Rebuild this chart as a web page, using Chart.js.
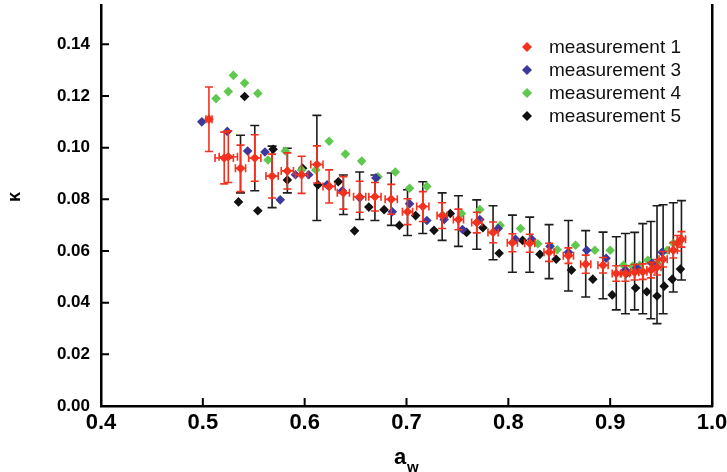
<!DOCTYPE html>
<html>
<head>
<meta charset="utf-8">
<script src="https://cdn.jsdelivr.net/npm/chart.js@4.4.0/dist/chart.umd.min.js"></script>
<style>
  html, body { margin: 0; padding: 0; background: #fff; }
  #wrap { width: 727px; height: 472px; position: relative; }
</style>
</head>
<body>
<div id="wrap"><canvas id="c"></canvas></div>
<script>
// tick labels
const xTicks = [0.4, 0.5, 0.6, 0.7, 0.8, 0.9, 1.0];
const yTicks = [0, 0.02, 0.04, 0.06, 0.08, 0.10, 0.12, 0.14];

// measurement 1 (mean, red error bars) + spread between runs (black bars)
const m1X = [0.506,0.521,0.525,0.537,0.551,0.568,0.583,0.597,0.612,0.624,0.638,0.654,0.669,0.685,0.701,0.716,0.735,0.751,0.769,0.785,0.804,0.821,0.840,0.859,0.876,0.893,0.906,0.915,0.924,0.932,0.940,0.946,0.952,0.962,0.966,0.970];
const m1Y = [0.111,0.096,0.0965,0.092,0.096,0.089,0.091,0.0895,0.0935,0.085,0.0825,0.081,0.081,0.080,0.0752,0.0772,0.0737,0.0722,0.071,0.0672,0.0632,0.063,0.0595,0.0582,0.0549,0.0545,0.0513,0.0513,0.0518,0.052,0.0526,0.0537,0.0568,0.0603,0.063,0.0645];
const m1Yerr = [0.0125,0.010,0.010,0.009,0.009,0.0085,0.007,0.0072,0.0072,0.0064,0.0063,0.006,0.0055,0.0058,0.005,0.0058,0.005,0.004,0.004,0.004,0.0035,0.0035,0.0035,0.003,0.0035,0.003,0.003,0.003,0.003,0.003,0.003,0.003,0.003,0.003,0.003,0.003];
const m1Xerr = [0.003,0.009,0.009,0.005,0.006,0.006,0.006,0.006,0.006,0.006,0.006,0.006,0.006,0.006,0.005,0.006,0.005,0.005,0.005,0.005,0.005,0.005,0.005,0.005,0.005,0.005,0.004,0.004,0.004,0.004,0.004,0.004,0.004,0.004,0.004,0.004];
const m1Lo = [null,null,null,0.0825,0.0833,0.0768,0.0825,null,0.0718,null,0.0741,0.0722,0.0718,0.0699,0.066,0.0668,0.0641,0.0618,0.0607,0.0566,0.0518,0.0518,0.0493,0.0445,0.0422,0.0415,0.0372,0.0357,0.0372,0.0357,0.0338,0.0319,0.0357,0.0441,null,0.0488];
const m1Hi = [null,null,null,0.1048,0.1086,0.1006,0.0998,null,0.1125,null,0.0894,0.0906,0.0894,0.0902,0.0837,0.0868,0.0825,0.0814,0.0798,0.0775,0.0739,0.0731,0.0702,0.0718,0.0679,0.0673,0.0655,0.0668,0.0672,0.0706,0.0714,0.0775,0.0779,0.0787,null,0.0795];

// measurement 3
const m3X = [0.499,0.524,0.544,0.561,0.576,0.591,0.604,0.622,0.637,0.654,0.670,0.686,0.703,0.720,0.737,0.755,0.772,0.790,0.807,0.823,0.841,0.859,0.877,0.896,0.915,0.926,0.941,0.951];
const m3Y = [0.110,0.1063,0.0987,0.0983,0.0798,0.0895,0.0895,0.0856,0.0833,0.0806,0.0883,0.0752,0.0783,0.0718,0.0722,0.0683,0.0722,0.0687,0.0645,0.0645,0.0618,0.0595,0.0603,0.0572,0.0526,0.0535,0.0553,0.0595];

// measurement 4
const m4X = [0.513,0.525,0.530,0.541,0.554,0.564,0.581,0.597,0.611,0.624,0.640,0.656,0.672,0.689,0.703,0.720,0.736,0.754,0.772,0.792,0.812,0.829,0.848,0.866,0.885,0.900,0.913,0.922,0.929,0.937,0.946,0.956,0.962];
const m4Y = [0.119,0.1217,0.128,0.125,0.121,0.0952,0.0987,0.0914,0.0914,0.1025,0.0975,0.0948,0.0887,0.0906,0.0843,0.085,0.0737,0.0745,0.076,0.0699,0.0687,0.0628,0.0605,0.0622,0.0603,0.0603,0.0545,0.0541,0.0545,0.0564,0.0553,0.0603,0.063];

// measurement 5
const m5X = [0.535,0.541,0.554,0.569,0.583,0.598,0.613,0.633,0.649,0.663,0.678,0.693,0.709,0.727,0.743,0.759,0.775,0.791,0.814,0.831,0.847,0.862,0.883,0.902,0.916,0.925,0.936,0.946,0.953,0.961,0.969];
const m5Y = [0.079,0.1198,0.0756,0.0994,0.0875,0.092,0.0856,0.0868,0.0678,0.077,0.076,0.0699,0.0737,0.068,0.0745,0.0672,0.069,0.0591,0.0641,0.0587,0.0568,0.0526,0.0491,0.043,0.0514,0.0457,0.0442,0.0426,0.0464,0.0491,0.053];

const RED = '#f2321f', BLUE = '#3c389c', GREEN = '#5fc84f', BLACK = '#111111';
const FONT = "'Liberation Sans', Arial, sans-serif";

const pts = (xs, ys) => xs.map((v, i) => ({ x: v, y: ys[i] }));

function ds(label, xs, ys, color) {
  return {
    label, data: pts(xs, ys),
    pointStyle: 'rectRot', pointRadius: 4.8,
    backgroundColor: color, borderColor: color, borderWidth: 0
  };
}

// no extra room for end labels, the frame sits where the scale says
function noPad(s) {
  s.paddingTop = 0; s.paddingBottom = 0; s.paddingLeft = 0; s.paddingRight = 0;
}

// error bars: black spread behind the points, red bars on top
const errBars = {
  id: 'errBars',
  beforeDatasetsDraw(chart) {
    const { ctx, scales: { x, y } } = chart;
    ctx.save();
    ctx.strokeStyle = '#1c1c1c';
    ctx.lineWidth = 1.6;
    m1X.forEach((v, i) => {
      if (m1Lo[i] == null) return;
      const px = x.getPixelForValue(v);
      const t = y.getPixelForValue(m1Hi[i]), b = y.getPixelForValue(m1Lo[i]);
      ctx.beginPath();
      ctx.moveTo(px, t); ctx.lineTo(px, b);
      ctx.moveTo(px - 4.5, t); ctx.lineTo(px + 4.5, t);
      ctx.moveTo(px - 4.5, b); ctx.lineTo(px + 4.5, b);
      ctx.stroke();
    });
    ctx.restore();
  },
  afterDatasetsDraw(chart) {
    const { ctx, scales: { x, y } } = chart;
    ctx.save();
    ctx.strokeStyle = RED;
    ctx.lineWidth = 1.6;
    m1X.forEach((v, i) => {
      const px = x.getPixelForValue(v), py = y.getPixelForValue(m1Y[i]);
      const t = y.getPixelForValue(m1Y[i] + m1Yerr[i]), b = y.getPixelForValue(m1Y[i] - m1Yerr[i]);
      const l = x.getPixelForValue(v - m1Xerr[i]), r = x.getPixelForValue(v + m1Xerr[i]);
      ctx.beginPath();
      ctx.moveTo(px, t); ctx.lineTo(px, b);
      ctx.moveTo(px - 4, t); ctx.lineTo(px + 4, t);
      ctx.moveTo(px - 4, b); ctx.lineTo(px + 4, b);
      ctx.moveTo(l, py); ctx.lineTo(r, py);
      ctx.moveTo(l, py - 4); ctx.lineTo(l, py + 4);
      ctx.moveTo(r, py - 4); ctx.lineTo(r, py + 4);
      ctx.stroke();
    });
    ctx.restore();
  }
};

// inward ticks, axis titles and legend
const decor = {
  id: 'decor',
  afterDraw(chart) {
    const { ctx, chartArea: a, scales: { x, y } } = chart;
    ctx.save();
    ctx.strokeStyle = '#000';
    ctx.lineWidth = 2;
    ctx.beginPath();
    xTicks.forEach(v => {
      const px = x.getPixelForValue(v);
      ctx.moveTo(px, a.bottom); ctx.lineTo(px, a.bottom - 8);
    });
    yTicks.forEach(v => {
      const py = y.getPixelForValue(v);
      ctx.moveTo(a.left, py); ctx.lineTo(a.left + 8, py);
    });
    ctx.stroke();

    // axis titles
    ctx.fillStyle = '#000';
    ctx.textAlign = 'center';
    ctx.textBaseline = 'middle';
    ctx.save();
    ctx.translate(15, 197);
    ctx.rotate(-Math.PI / 2);
    ctx.font = 'bold 18px ' + FONT;
    ctx.fillText('κ', 0, 0);
    ctx.restore();
    ctx.font = 'bold 22px ' + FONT;
    ctx.textAlign = 'left';
    ctx.fillText('a', 394, 458);
    ctx.font = 'bold 15px ' + FONT;
    ctx.fillText('w', 407, 468);

    // legend
    ctx.font = '19px ' + FONT;
    ctx.textBaseline = 'middle';
    const rows = [47, 70, 93, 116];
    chart.data.datasets.forEach((d, i) => {
      const cy = rows[i], cx = 527, r = 5;
      ctx.fillStyle = d.backgroundColor;
      ctx.beginPath();
      ctx.moveTo(cx, cy - r); ctx.lineTo(cx + r, cy); ctx.lineTo(cx, cy + r); ctx.lineTo(cx - r, cy);
      ctx.closePath();
      ctx.fill();
      ctx.fillStyle = '#111';
      ctx.fillText(d.label, 549, cy + 1);
    });
    ctx.restore();
  }
};

new Chart(document.getElementById('c'), {
  type: 'scatter',
  data: {
    datasets: [
      ds('measurement 1', m1X, m1Y, RED),
      ds('measurement 3', m3X, m3Y, BLUE),
      ds('measurement 4', m4X, m4Y, GREEN),
      ds('measurement 5', m5X, m5Y, BLACK)
    ]
  },
  options: {
    responsive: true, maintainAspectRatio: false, animation: false,
    devicePixelRatio: 1,
    layout: { padding: { top: 1, right: 15, left: 0, bottom: 0 } },
    plugins: { legend: { display: false }, tooltip: { enabled: false } },
    scales: {
      x: {
        type: 'linear', min: 0.4, max: 1.0,
        afterBuildTicks: s => { s.ticks = xTicks.map(v => ({ value: v })); },
        afterFit: s => { s.height = 66; noPad(s); },
        grid: { display: false, drawTicks: false },
        border: { display: true, color: '#000', width: 2.5 },
        ticks: {
          color: '#000', padding: 4, maxRotation: 0,
          font: { family: FONT, size: 22, weight: 'bold' },
          callback: v => v.toFixed(1)
        }
      },
      y: {
        min: 0, max: 0.1553,
        afterBuildTicks: s => { s.ticks = yTicks.map(v => ({ value: v })); },
        afterFit: s => { s.width = 101; noPad(s); },
        grid: { display: false, drawTicks: false },
        border: { display: true, color: '#000', width: 2.5 },
        ticks: {
          color: '#000', padding: 11,
          font: { family: FONT, size: 17, weight: 'bold' },
          callback: v => v.toFixed(2)
        }
      },
      yR: {
        position: 'right', min: 0, max: 0.1553,
        afterFit: s => { s.width = 0; noPad(s); },
        grid: { display: false, drawTicks: false },
        border: { display: true, color: '#000', width: 2.5 },
        ticks: { display: false }
      }
    }
  },
  plugins: [errBars, decor]
});
</script>
</body>
</html>
